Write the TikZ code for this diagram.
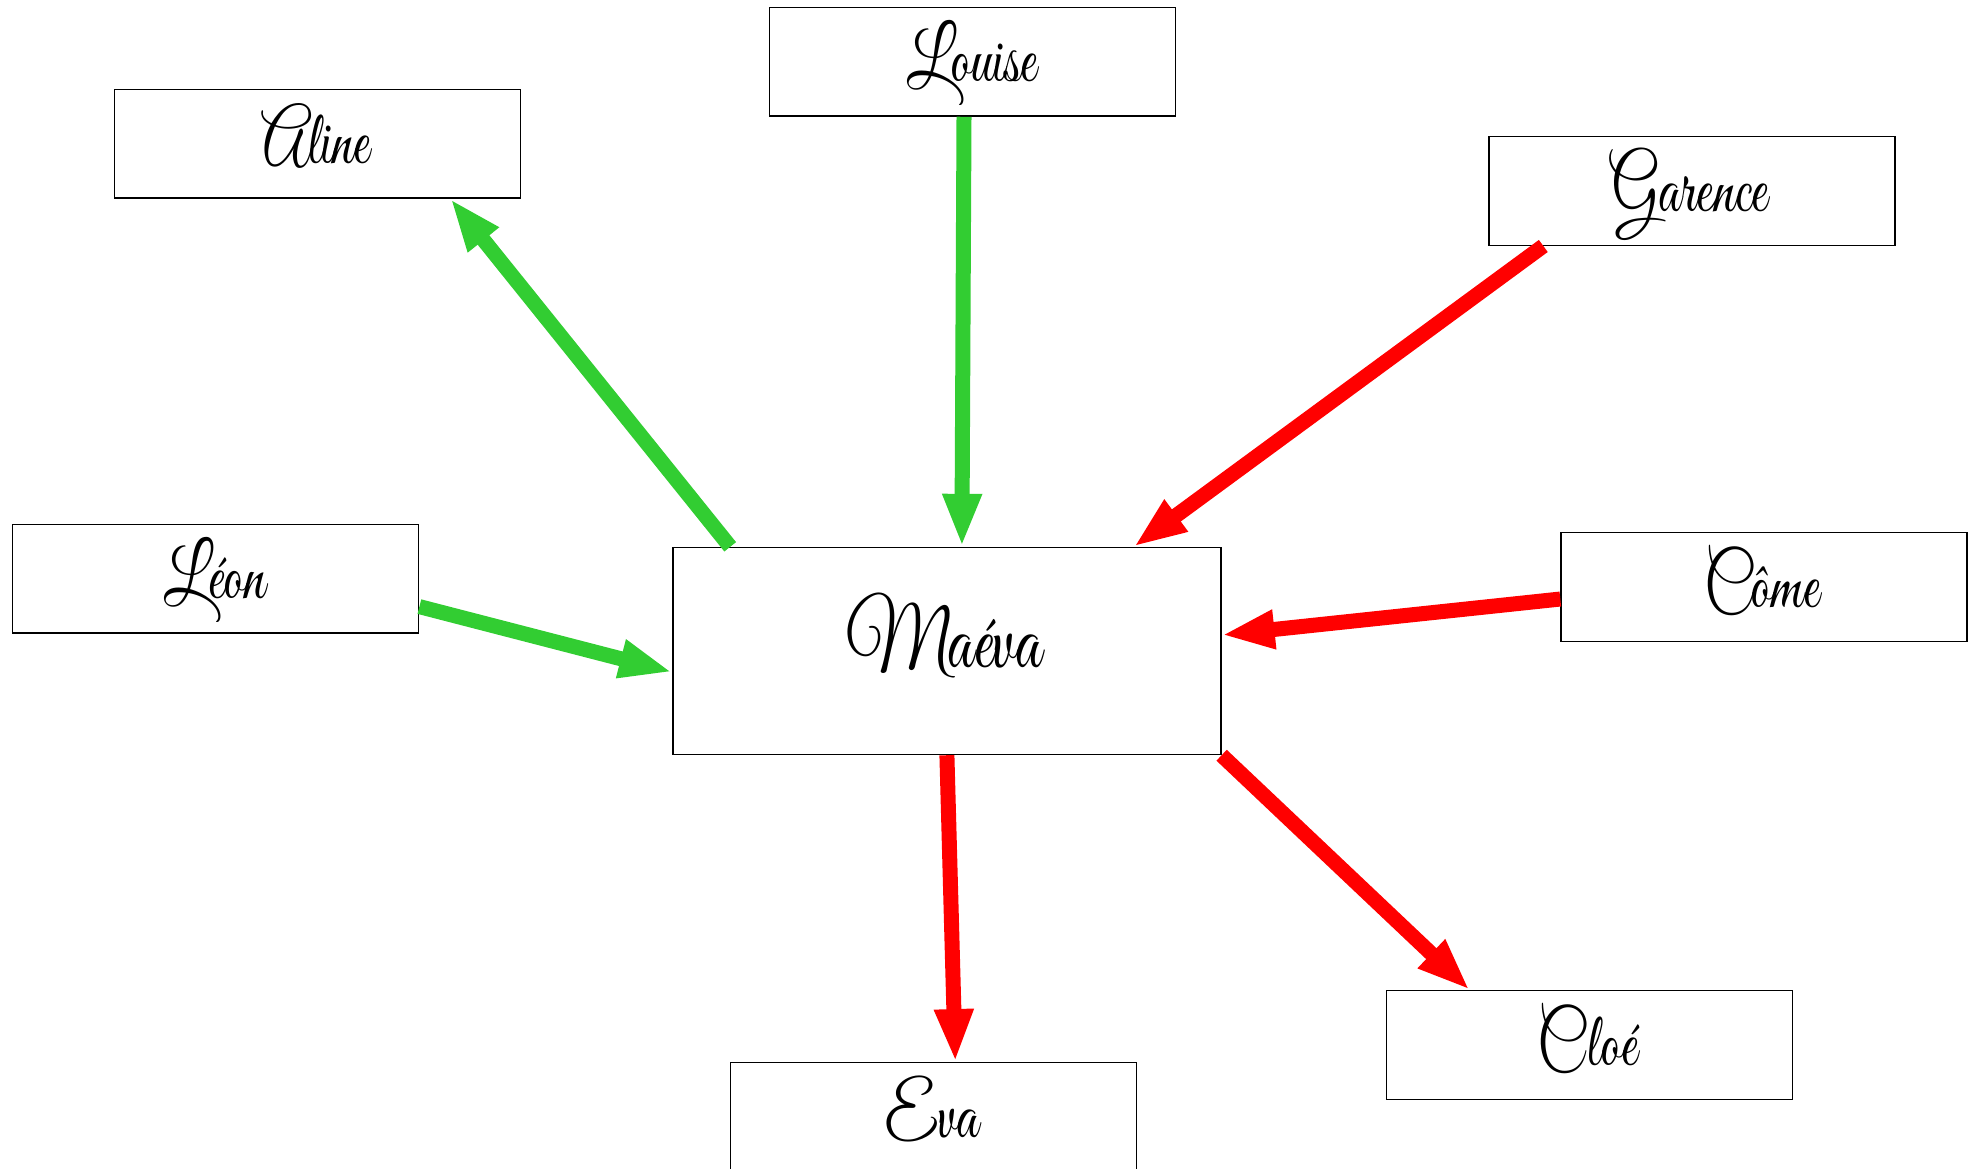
\documentclass[tikz,border=0pt]{standalone}
\usepackage{fontspec}
\usetikzlibrary{arrows.meta}
\newfontfamily\namefont[FakeSlant=-0.15,FakeStretch=0.8]{Great Vibes}
\newcommand\nm[1]{{\namefont #1}}
\definecolor{vert}{RGB}{50,205,50}
\definecolor{rouge}{RGB}{255,0,0}

\begin{document}
\begin{tikzpicture}[nom/.style={draw,line width=0.4pt,minimum width=4.06cm,minimum height=1.085cm,inner sep=0pt,text height=0.55cm,text depth=0.15cm,font=\fontsize{22}{26}\selectfont},
  centre/.style={nom,minimum width=5.48cm,minimum height=2.07cm,text height=0.6cm,text depth=0.28cm,font=\fontsize{26}{30}\selectfont},
  oui/.style={line width=0.15cm,draw=vert,-{Triangle[length=0.53cm,width=0.36cm]}},
  non/.style={oui,draw=rouge}]
   \useasboundingbox (0,0) rectangle (19.72,-11.68);
   % les cases
   \node[centre] (maeva) at (9.469,-6.51) {\nm{Maéva}};
   \node[nom] (louise) at (9.725,-0.618) {\nm{Louise}};
   \node[nom] (aline) at (3.176,-1.437) {\nm{Aline}};
   \node[nom] (garence) at (16.92,-1.91) {\nm{Garence}};
   \node[nom] (leon) at (2.157,-5.786) {\nm{Léon}};
   \node[nom] (come) at (17.64,-5.87) {\nm{Côme}};
   \node[nom] (cloe) at (15.895,-10.45) {\nm{Cloé}};
   \node[nom] (eva) at (9.333,-11.17) {\nm{Eva}};
   % les fleches
   \draw[oui] ([xshift=0.58cm]maeva.north west) -- ([xshift=-0.71cm]aline.south east);
   \draw[oui] ([xshift=-0.085cm]louise.south) -- ([xshift=0.15cm]maeva.north);
   \draw[non] ([xshift=0.55cm]garence.south west) -- ([xshift=-0.88cm]maeva.north east);
   \draw[oui] ([yshift=-0.28cm]leon.east) -- ([yshift=-0.21cm]maeva.west);
   \draw[non] ([yshift=-0.12cm]come.west) -- ([yshift=0.16cm]maeva.east);
   \draw[non] (maeva.south east) -- ([xshift=0.84cm]cloe.north west);
   \draw[non] (maeva.south) -- ([xshift=0.22cm]eva.north);
\end{tikzpicture}
\end{document}
